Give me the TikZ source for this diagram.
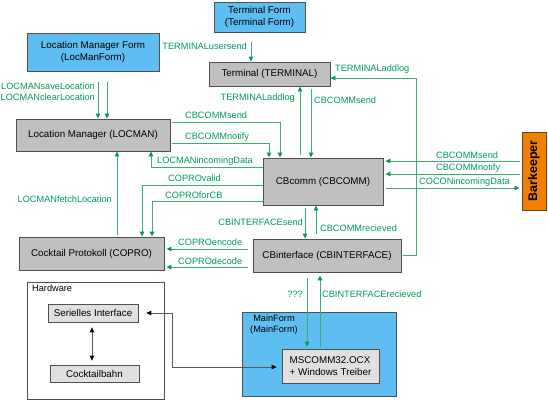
\documentclass[tikz,border=0pt]{standalone}
\usepackage{fontspec}
\setmainfont{Liberation Sans}
\usetikzlibrary{arrows.meta}
\definecolor{formblue}{RGB}{94,190,242}
\definecolor{boxgray}{RGB}{192,192,192}
\definecolor{lightgray2}{RGB}{224,224,224}
\definecolor{bordergray}{RGB}{80,80,80}
\definecolor{barkorange}{RGB}{240,128,0}
\definecolor{barkborder}{RGB}{100,70,40}
\definecolor{textgreen}{RGB}{0,155,85}
\definecolor{linegreen}{RGB}{60,175,110}
\definecolor{blackline}{RGB}{90,90,90}
\tikzset{
  basebox/.style={draw=bordergray, line width=0.9pt, align=center, inner sep=1pt,
    font=\fontsize{9.8}{11.5}\selectfont},
  bluebox/.style={basebox, fill=formblue},
  graybox/.style={basebox, fill=boxgray},
  lightbox/.style={basebox, fill=lightgray2, line width=0.7pt},
  framebox/.style={draw=bordergray, line width=0.8pt, fill=white},
  lbl/.style={text=textgreen, inner sep=0pt, font=\fontsize{9.2}{10}\selectfont},
  plainlbl/.style={inner sep=0pt, font=\fontsize{9.2}{11}\selectfont, align=center},
  glink/.style={draw=linegreen, line width=0.9pt, -{Triangle[length=5pt,width=4.5pt,color=textgreen]}},
  blink/.style={draw=blackline, line width=0.8pt, {Triangle[length=5pt,width=4.5pt,color=black]}-{Triangle[length=5pt,width=4.5pt,color=black]}},
}
\begin{document}
\begin{tikzpicture}[x=1pt,y=-1pt]
\useasboundingbox (0,0) rectangle (548,400);

% frames
\node[framebox, minimum width=137, minimum height=117] (hardware) at (95.5,340.5) {};
\node[plainlbl, anchor=west] (hwlabel) at (32,288) {Hardware};
\node[bluebox, minimum width=154, minimum height=84] (mainform) at (319,354) {};
\node[plainlbl, anchor=north] (mflabel) at (274,315) {MainForm\\(MainForm)};

% boxes
\node[bluebox, minimum width=91, minimum height=30] (termform) at (259.5,17) {Terminal Form\\(Terminal Form)};
\node[bluebox, minimum width=132, minimum height=38] (locform) at (93,52) {Location Manager Form\\(LocManForm)};
\node[graybox, minimum width=121, minimum height=24] (terminal) at (269.5,74) {Terminal (TERMINAL)};
\node[graybox, minimum width=154, minimum height=32] (locman) at (93,135) {Location Manager (LOCMAN)};
\node[graybox, minimum width=120, minimum height=47] (cbcomm) at (323,181.5) {CBcomm (CBCOMM)};
\node[graybox, minimum width=148, minimum height=33] (cbint) at (327,255.5) {CBinterface (CBINTERFACE)};
\node[graybox, minimum width=145, minimum height=33] (copro) at (91.5,253.5) {Cocktail Protokoll (COPRO)};
\node[basebox, fill=barkorange, draw=barkborder, minimum width=24, minimum height=78] (barkeeper) at (534,171)
  {\rotatebox{90}{\fontsize{12.5}{14}\selectfont\bfseries Barkeeper}};
\node[lightbox, minimum width=90, minimum height=18] (serial) at (93,313) {Serielles Interface};
\node[lightbox, minimum width=89, minimum height=17] (cocktailbahn) at (94.5,373.5) {Cocktailbahn};
\node[lightbox, minimum width=97, minimum height=34, align=left] (mscomm) at (330.5,366) {MSCOMM32.OCX\\+ Windows Treiber};

% green connectors
\draw[glink, shorten <=10pt] (termform.south -| 251,0) -- (terminal.north -| 251,0);
\node[lbl, anchor=east] (l1) at (247,46) {TERMINALusersend};

\draw[glink, shorten <=11pt] (locform.south -| 98,0) -- (locman.north -| 98,0);
\draw[glink, shorten <=11pt] (locform.south -| 107,0) -- (locman.north -| 107,0);
\node[lbl, anchor=east] (l2) at (95,86) {LOCMANsaveLocation};
\node[lbl, anchor=east] (l3) at (95,97) {LOCMANclearLocation};

\draw[glink, shorten <=2pt] (cbint.east) -| (416,78) -- (terminal.east |- 0,78);
\node[lbl, anchor=west] (l4) at (335,69) {TERMINALaddlog};

\draw[glink, shorten <=3pt] (cbcomm.north -| 300,0) -- (terminal.south -| 300,0);
\node[lbl, anchor=east] (l5) at (295,98) {TERMINALaddlog};
\draw[glink, shorten <=3pt] (terminal.south -| 311,0) -- (cbcomm.north -| 311,0);
\node[lbl, anchor=west] (l6) at (314,100) {CBCOMMsend};

\draw[glink, shorten <=2pt] (locman.east |- 0,122) -| (cbcomm.north -| 280,0);
\node[lbl, anchor=west] (l7) at (185,115) {CBCOMMsend};
\draw[glink, shorten <=2pt] (locman.east |- 0,143) -| (cbcomm.north -| 269,0);
\node[lbl, anchor=west] (l8) at (185,137) {CBCOMMnotify};

\draw[glink] (cbcomm.west |- 0,167) -| (locman.south -| 151,0);
\node[lbl, anchor=west] (l9) at (157,161) {LOCMANincomingData};
\draw[glink] (cbcomm.west |- 0,185) -| (copro.north -| 142,0);
\node[lbl, anchor=west] (l10) at (168,178) {COPROvalid};
\draw[glink] (cbcomm.west |- 0,201) -| (copro.north -| 152,0);
\node[lbl, anchor=west] (l11) at (165,195) {COPROforCB};

\draw[glink, shorten <=2pt] (copro.north -| 117,0) -- (locman.south -| 117,0);
\node[lbl, anchor=east] (l12) at (112,199) {LOCMANfetchLocation};

\draw[glink, shorten <=3pt] (cbcomm.south -| 305,0) -- (cbint.north -| 305,0);
\node[lbl, anchor=east] (l13) at (303,222) {CBINTERFACEsend};
\draw[glink, shorten <=5pt] (cbint.north -| 316,0) -- (cbcomm.south -| 316,0);
\node[lbl, anchor=west] (l14) at (320,228) {CBCOMMrecieved};

\draw[glink, shorten <=5pt, shorten >=2pt] (cbint.west |- 0,249) -- (copro.east |- 0,249);
\node[lbl, anchor=west] (l15) at (178,242) {COPROencode};
\draw[glink, shorten <=5pt, shorten >=2pt] (cbint.west |- 0,267) -- (copro.east |- 0,267);
\node[lbl, anchor=west] (l16) at (178,261) {COPROdecode};

\draw[glink, shorten <=2pt, shorten >=3pt] (mscomm.north -| 320,0) -- (cbint.south -| 320,0);
\node[lbl, anchor=west] (l17) at (322,294) {CBINTERFACErecieved};
\draw[glink, shorten <=6pt, shorten >=2pt] (cbint.south -| 307,0) -- (mscomm.north -| 307,0);
\node[lbl, anchor=east] (l18) at (303,294) {???};

\draw[glink, shorten <=2pt, shorten >=2pt] (barkeeper.west |- 0,161) -- (cbcomm.east |- 0,161);
\node[lbl, anchor=west] (l19) at (436,155) {CBCOMMsend};
\draw[glink, shorten <=2pt, shorten >=2pt] (barkeeper.west |- 0,174) -- (cbcomm.east |- 0,174);
\node[lbl, anchor=west] (l20) at (436,168) {CBCOMMnotify};
\draw[glink, shorten <=3pt, shorten >=2pt] (cbcomm.east |- 0,188) -- (barkeeper.west |- 0,188);
\node[lbl, anchor=west] (l21) at (419,182) {COCONincomingData};

% black connectors
\draw[blink, shorten <=8pt, shorten >=5pt] (serial.east) -- (172,313) |- (mscomm.west |- 0,367);
\draw[blink, shorten <=5pt, shorten >=4pt] (serial.south -| 92,0) -- (cocktailbahn.north -| 92,0);
\end{tikzpicture}
\end{document}
